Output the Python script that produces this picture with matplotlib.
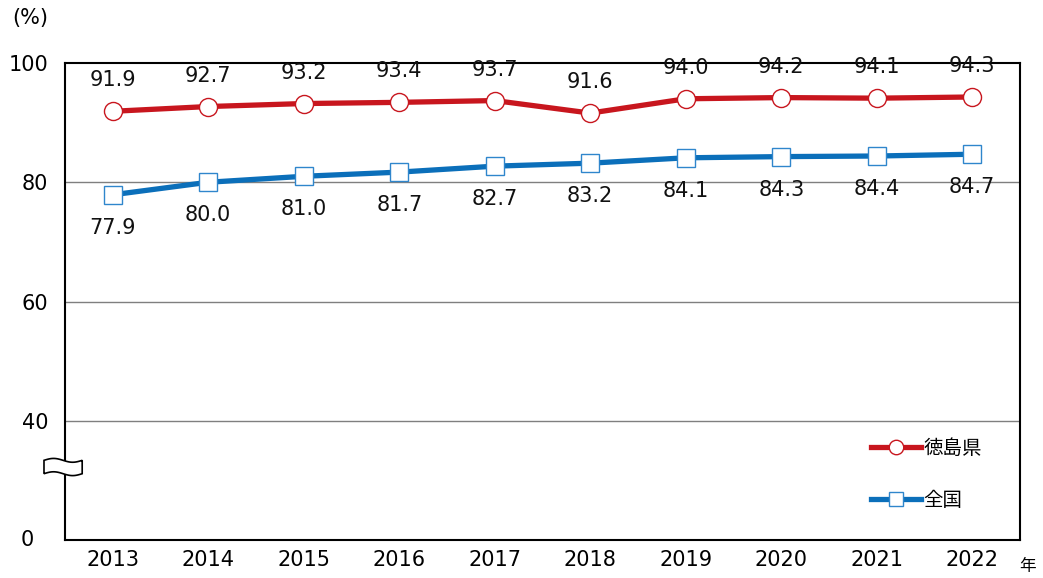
import matplotlib
matplotlib.use("Agg")
import matplotlib.pyplot as plt
import numpy as np
from matplotlib.patches import PathPatch
from matplotlib.path import Path

plt.rcParams['font.family'] = ['DejaVu Sans', 'Noto Sans CJK JP']

years = ["2013", "2014", "2015", "2016", "2017", "2018", "2019", "2020", "2021", "2022"]
tokushima = [91.9, 92.7, 93.2, 93.4, 93.7, 91.6, 94.0, 94.2, 94.1, 94.3]
zenkoku = [77.9, 80.0, 81.0, 81.7, 82.7, 83.2, 84.1, 84.3, 84.4, 84.7]
ytick_vals = [40, 60, 80, 100]

red = "#C8161E"
blue = "#0B6FBA"
fs = 15

fig = plt.figure(figsize=(10.43, 5.78), dpi=100)
ax = fig.add_axes([65/1043, 38/578, 955/1043, 477/578])

x = np.arange(len(years))
ax.plot(x, tokushima, color=red, lw=3.8, marker="o", ms=13, mfc="white",
        mec=red, mew=1.0, label="徳島県", zorder=3)
ax.plot(x, zenkoku, color=blue, lw=3.8, marker="s", ms=13, mfc="white",
        mec="#2F86CC", mew=1.0, label="全国", zorder=3)

for xi, v in zip(x, tokushima):
    ax.annotate(f"{v:.1f}", (xi, v), xytext=(0, 31), textcoords="offset pixels",
                ha="center", va="center", fontsize=fs, color="#111111")
for xi, v in zip(x, zenkoku):
    ax.annotate(f"{v:.1f}", (xi, v), xytext=(0, -33), textcoords="offset pixels",
                ha="center", va="center", fontsize=fs, color="#111111")

ax.set_xlim(-0.5, len(years) - 0.5)
ax.set_ylim(20, 100)
ax.set_xticks(x)
ax.set_xticklabels(years, fontsize=fs)
ax.set_yticks(ytick_vals)
ax.set_yticklabels([str(v) for v in ytick_vals], fontsize=fs)
ax.tick_params(length=0, pad=12)
ax.tick_params(axis="x", pad=7)

for v in [40, 60, 80]:
    ax.axhline(v, color="#7f7f7f", lw=1.0, zorder=1)

for s in ax.spines.values():
    s.set_linewidth(1.5)
    s.set_color("black")

# "0" at the bottom of the broken axis
ax.text(-0.040, 0.0, "0", transform=ax.transAxes, ha="center", va="center", fontsize=fs)

# break mark on y axis
yb = 0.153
xs = np.linspace(-0.022, 0.018, 30)
wave = 0.004 * np.sin((xs + 0.022) / 0.040 * 2 * np.pi)
top = list(zip(xs, yb + 0.014 + wave))
bot = list(zip(xs[::-1], (yb - 0.014 + wave)[::-1]))
verts = top + bot + [top[0]]
codes = [Path.MOVETO] + [Path.LINETO] * (len(verts) - 2) + [Path.CLOSEPOLY]
ax.add_patch(PathPatch(Path(verts, codes), facecolor="white", edgecolor="black",
                       lw=1.2, transform=ax.transAxes, clip_on=False, zorder=5))

ax.legend(loc="upper left", bbox_to_anchor=(863/1043, 1 - 430/578),
          bbox_transform=fig.transFigure, frameon=False,
          prop={'family': ['Noto Sans CJK JP'], 'size': 14},
          handlelength=2.6, handletextpad=0.1, labelspacing=1.6,
          markerscale=0.8, borderaxespad=0)

fig.text(12/1043, 1 - 18/578, "(%)", fontsize=fs, va="center", ha="left")
fig.text(1028/1043, 1 - 566/578, "年", fontsize=12, va="center", ha="center",
         family=['Noto Sans CJK JP'])

plt.savefig("out.png", dpi=100)
